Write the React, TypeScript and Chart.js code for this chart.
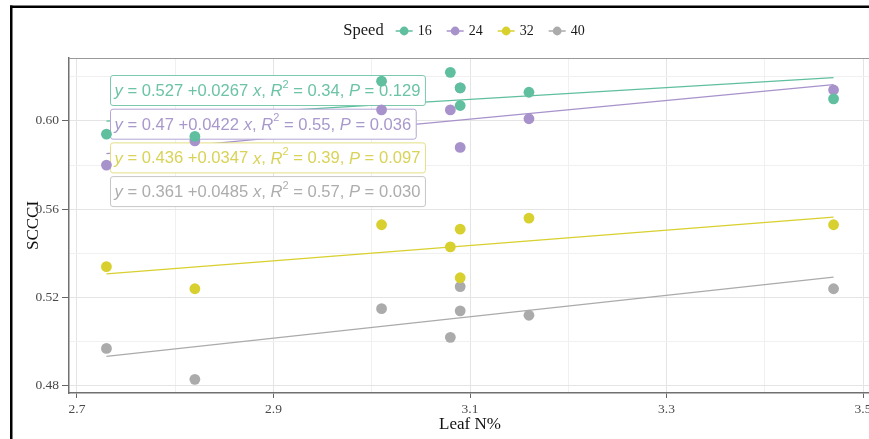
import React, { useEffect, useRef } from "react";
import { Chart, registerables } from "chart.js";

Chart.register(...registerables);

// ---------- data ----------
const speeds = ["16", "24", "32", "40"];
const seriesColors = ["#5fbf9e", "#a892cb", "#d8d02e", "#ababab"];
const boxBorderColors = ["#7cc9ae", "#b4a6d4", "#e4df86", "#c6c6c6"];
const labelTextColors = ["#6cc3a5", "#a898cc", "#d9d358", "#adadad"];

const leafN = [2.73, 2.82, 3.01, 3.08, 3.09, 3.09, 3.16, 3.47];
const sccci16 = [0.594, 0.593, 0.618, 0.622, 0.607, 0.615, 0.613, 0.61];
const sccci24 = [0.58, 0.591, 0.605, 0.605, 0.615, 0.588, 0.601, 0.614];
const sccci32 = [0.534, 0.524, 0.553, 0.543, 0.551, 0.529, 0.556, 0.553];
const sccci40 = [0.497, 0.483, 0.515, 0.502, 0.525, 0.514, 0.512, 0.524];
const seriesValues = [sccci16, sccci24, sccci32, sccci40];

const intercepts = [0.527, 0.47, 0.436, 0.361];
const interceptText = ["0.527", "0.47", "0.436", "0.361"];
const slopes = [0.0267, 0.0422, 0.0347, 0.0485];
const slopeText = ["0.0267", "0.0422", "0.0347", "0.0485"];
const r2Text = ["0.34", "0.55", "0.39", "0.57"];
const pText = ["0.129", "0.036", "0.097", "0.030"];

const xMajorTicks = [2.7, 2.9, 3.1, 3.3, 3.5];
const xMinorTicks = [2.8, 3.0, 3.2, 3.4];
const yMajorTicks = [0.48, 0.52, 0.56, 0.6];
const yMinorTicks = [0.5, 0.54, 0.58, 0.62];

const X_MIN = 2.6919;
const X_MAX = 3.5081;
const Y_MIN = 0.4768;
const Y_MAX = 0.6285;

const SERIF = "'Liberation Serif', 'Times New Roman', serif";
const SANS = "'Liberation Sans', Arial, sans-serif";

const isIn = (arr: number[], v: number) => arr.some((m) => Math.abs(m - v) < 1e-9);

// ---------- plugins ----------
const framePlugin = {
  id: "frameAndLegend",
  beforeDatasetsDraw(chart: any) {
    const { ctx, chartArea } = chart;
    ctx.save();
    ctx.strokeStyle = "#9a9a9a";
    ctx.lineWidth = 1;
    ctx.beginPath();
    ctx.moveTo(chartArea.left, chartArea.top + 0.5);
    ctx.lineTo(chartArea.right, chartArea.top + 0.5);
    ctx.lineTo(chartArea.right - 0.5, chartArea.bottom);
    ctx.stroke();
    ctx.restore();
    chart.$boxesDrawn = false;
  },
  beforeDatasetDraw(chart: any, args: any) {
    if (chart.$boxesDrawn) return;
    if (args.meta.type !== "scatter") return;
    chart.$boxesDrawn = true;
    const { ctx, chartArea } = chart;
    ctx.save();
    const fs = 16.6;
    const left = chartArea.left + 41;
    for (let i = 0; i < speeds.length; i++) {
      const top = chartArea.top + 17 + i * 33.7;
      const segs: { t: string; it?: boolean; sup?: boolean }[] = [
        { t: "y", it: true },
        { t: " = " + interceptText[i] + " +" + slopeText[i] + " " },
        { t: "x", it: true },
        { t: ", " },
        { t: "R", it: true },
        { t: "2", sup: true },
        { t: " = " + r2Text[i] + ", " },
        { t: "P", it: true },
        { t: " = " + pText[i] },
      ];
      const fontFor = (s: any) =>
        s.sup ? `11px ${SANS}` : `${s.it ? "italic " : ""}${fs}px ${SANS}`;
      let w = 0;
      const widths = segs.map((s) => {
        ctx.font = fontFor(s);
        const m = ctx.measureText(s.t).width;
        w += m;
        return m;
      });
      const bw = w + 9;
      const bh = 30;
      ctx.beginPath();
      ctx.roundRect(left + 0.5, top + 0.5, bw, bh, 2.5);
      ctx.fillStyle = "#ffffff";
      ctx.fill();
      ctx.strokeStyle = boxBorderColors[i];
      ctx.lineWidth = 1;
      ctx.stroke();
      let x = left + 4.5;
      const cy = top + bh / 2 + 1.5;
      ctx.fillStyle = labelTextColors[i];
      ctx.textBaseline = "middle";
      ctx.textAlign = "left";
      segs.forEach((s, k) => {
        ctx.font = fontFor(s);
        ctx.fillText(s.t, x, s.sup ? cy - 7 : cy);
        x += widths[k];
      });
    }
    ctx.restore();
  },
  afterDraw(chart: any) {
    const { ctx, chartArea } = chart;
    ctx.save();
    ctx.fillStyle = "#000";
    ctx.fillRect(10, 5.5, 900, 2.5);
    ctx.fillRect(10, 5.5, 2.5, 440);

    const titleFont = `16.5px ${SERIF}`;
    const itemFont = `14px ${SERIF}`;
    ctx.font = titleFont;
    const titleW = ctx.measureText("Speed").width;
    ctx.font = itemFont;
    const keyW = 17;
    const itemWs = speeds.map((s) => ctx.measureText(s).width);
    const gapTitle = 12;
    const gapKey = 5;
    const gapItem = 15;
    let total = titleW + gapTitle;
    itemWs.forEach((w, i) => {
      total += keyW + gapKey + w + (i < speeds.length - 1 ? gapItem : 0);
    });
    const cx = (chartArea.left + chartArea.right) / 2 - 6;
    let x = cx - total / 2;
    const y = 31;
    ctx.textBaseline = "middle";
    ctx.textAlign = "left";
    ctx.fillStyle = "#1a1a1a";
    ctx.font = titleFont;
    ctx.fillText("Speed", x, y);
    x += titleW + gapTitle;
    speeds.forEach((s, i) => {
      ctx.strokeStyle = seriesColors[i];
      ctx.lineWidth = 1.5;
      ctx.beginPath();
      ctx.moveTo(x, y);
      ctx.lineTo(x + keyW, y);
      ctx.stroke();
      ctx.fillStyle = seriesColors[i];
      ctx.beginPath();
      ctx.arc(x + keyW / 2, y, 4.4, 0, Math.PI * 2);
      ctx.fill();
      x += keyW + gapKey;
      ctx.fillStyle = "#1a1a1a";
      ctx.font = itemFont;
      ctx.fillText(s, x, y + 0.5);
      x += itemWs[i] + gapItem;
    });
    ctx.restore();
  },
};

export default function App() {
  const canvasRef = useRef<HTMLCanvasElement | null>(null);

  useEffect(() => {
    document.body.style.margin = "0";
    const canvas = canvasRef.current;
    if (!canvas) return;

    const lineSets = speeds.map((s, i) => {
      const lo = Math.min(...leafN);
      const hi = Math.max(...leafN);
      return {
        type: "line" as const,
        label: "fit " + s,
        data: [
          { x: lo, y: intercepts[i] + slopes[i] * lo },
          { x: hi, y: intercepts[i] + slopes[i] * hi },
        ],
        borderColor: seriesColors[i],
        borderWidth: 1.3,
        pointRadius: 0,
        fill: false,
        order: 2,
      };
    });
    const pointSets = speeds.map((s, i) => ({
      type: "scatter" as const,
      label: s,
      data: leafN.map((x, k) => ({ x, y: seriesValues[i][k] })),
      backgroundColor: seriesColors[i],
      borderWidth: 0,
      pointRadius: 5.4,
      order: 1,
    }));

    const gridColor = (ctx: any, majors: number[]) => {
      const v = ctx.tick ? ctx.tick.value : NaN;
      return isIn(majors, v) ? "#e4e4e4" : "#f0f0f0";
    };

    const chart = new Chart(canvas, {
      type: "scatter",
      data: { datasets: [...lineSets, ...pointSets] as any },
      options: {
        animation: false,
        responsive: false,
        devicePixelRatio: 1,
        layout: { padding: { top: 58, right: 14, left: 0, bottom: 0 } },
        plugins: {
          legend: { display: false },
          tooltip: { enabled: false },
        },
        scales: {
          x: {
            type: "linear",
            min: X_MIN,
            max: X_MAX,
            afterBuildTicks: (scale: any) => {
              scale.ticks = [...xMajorTicks, ...xMinorTicks]
                .sort((a, b) => a - b)
                .map((v) => ({ value: v }));
            },
            afterFit: (scale: any) => {
              scale.height = 46;
            },
            ticks: {
              autoSkip: false,
              maxRotation: 0,
              padding: 3,
              color: "#4a4a4a",
              font: { family: SERIF, size: 13.5 },
              callback: (v: any) => (isIn(xMajorTicks, Number(v)) ? Number(v).toFixed(1) : ""),
            },
            grid: {
              color: (ctx: any) => gridColor(ctx, xMajorTicks),
              lineWidth: 1,
              tickLength: 5,
              tickColor: (ctx: any) =>
                isIn(xMajorTicks, ctx.tick ? ctx.tick.value : NaN) ? "#666666" : "rgba(0,0,0,0)",
            },
            border: { display: true, color: "#707070", width: 1.5 },
            title: {
              display: true,
              text: "Leaf N%",
              color: "#111111",
              font: { family: SERIF, size: 17 },
              padding: { top: 0, bottom: 4 },
            },
          },
          y: {
            type: "linear",
            min: Y_MIN,
            max: Y_MAX,
            afterBuildTicks: (scale: any) => {
              scale.ticks = [...yMajorTicks, ...yMinorTicks]
                .sort((a, b) => a - b)
                .map((v) => ({ value: v }));
            },
            afterFit: (scale: any) => {
              scale.width = 69;
            },
            ticks: {
              autoSkip: false,
              padding: 3,
              color: "#4a4a4a",
              font: { family: SERIF, size: 13.5 },
              callback: (v: any) => (isIn(yMajorTicks, Number(v)) ? Number(v).toFixed(2) : ""),
            },
            grid: {
              color: (ctx: any) => gridColor(ctx, yMajorTicks),
              lineWidth: 1,
              tickLength: 7,
              tickColor: (ctx: any) =>
                isIn(yMajorTicks, ctx.tick ? ctx.tick.value : NaN) ? "#666666" : "rgba(0,0,0,0)",
            },
            border: { display: true, color: "#707070", width: 1.5 },
            title: {
              display: true,
              text: "SCCCI",
              color: "#111111",
              font: { family: SERIF, size: 17 },
              padding: { top: 23, bottom: 0 },
            },
          },
        },
      },
      plugins: [framePlugin],
    });

    return () => chart.destroy();
  }, []);

  return (
    <div style={{ width: 869, height: 439, overflow: "hidden", position: "relative", background: "#fff" }}>
      <canvas ref={canvasRef} width={885} height={439} style={{ width: 885, height: 439, display: "block" }} />
    </div>
  );
}
